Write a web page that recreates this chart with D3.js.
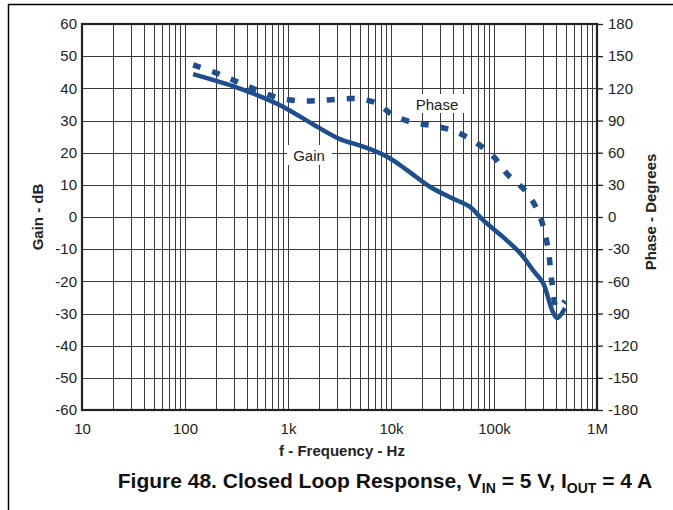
<!DOCTYPE html>
<html><head><meta charset="utf-8">
<script src="https://cdn.jsdelivr.net/npm/d3@7"></script>
<style>
html,body{margin:0;padding:0;background:#fff;}
svg{display:block;font-family:"Liberation Sans",Arial,sans-serif;}
</style></head>
<body><svg id="c" width="673" height="510"></svg>
<script>
// ---- data ----
const gainFreq = [120, 292, 500, 893, 1910, 3200, 5350, 9100, 14300, 23900, 37000, 58000, 78000, 122000, 179000, 239000, 299000, 334000, 366000, 409000, 489000];
const gainDb   = [44.4, 40.7, 37.9, 34.3, 28.1, 24.2, 21.9, 18.8, 14.6, 9.4, 6.2, 3.2, -0.9, -6.2, -11.2, -16.5, -20.5, -24.9, -28.9, -31.4, -28.3];
const phaseFreq = [120, 205, 320, 500, 782, 1220, 1910, 2990, 4680, 7300, 10400, 16400, 25600, 40000, 62500, 97700, 137000, 209000, 280000, 334000, 366000, 409000, 489000];
const phaseDeg  = [141.8, 134, 126.2, 118.4, 111.6, 108.5, 108.5, 109.8, 110.3, 106, 95.1, 88, 85.1, 80.5, 71.2, 56.9, 39.2, 22.7, 0.3, -28.9, -61.6, -85, -78.3];
const xTicks = [10, 100, 1000, 10000, 100000, 1000000];
const xTickLabels = ["10", "100", "1k", "10k", "100k", "1M"];
const gainTicks = [-60, -50, -40, -30, -20, -10, 0, 10, 20, 30, 40, 50, 60];
const phaseTicks = [-180, -150, -120, -90, -60, -30, 0, 30, 60, 90, 120, 150, 180];

const svg = d3.select("#c");
const L = 82, R = 597, T = 24, B = 410;
const blue = "#1d4e8d";
const x = d3.scaleLog().domain([10, 1e6]).range([L, R]);
const yG = d3.scaleLinear().domain([-60, 60]).range([B, T]);
const yP = d3.scaleLinear().domain([-180, 180]).range([B, T]);

// outer frame (top and left)
svg.append("line").attr("x1", 8).attr("y1", 4.5).attr("x2", 673).attr("y2", 4.5).attr("stroke", "#000").attr("stroke-width", 1.5);
svg.append("line").attr("x1", 8.5).attr("y1", 4).attr("x2", 8.5).attr("y2", 510).attr("stroke", "#000").attr("stroke-width", 1.5);

// grid
const minor = [];
for (let e = 1; e < 6; e++) for (let m = 1; m < 10; m++) minor.push(m * Math.pow(10, e));
const g = svg.append("g");
g.selectAll("line.v").data(minor.filter(d => d > 10)).enter().append("line")
  .attr("x1", d => Math.round(x(d)) + 0.5).attr("x2", d => Math.round(x(d)) + 0.5)
  .attr("y1", T).attr("y2", B).attr("stroke", "#3a3a3a").attr("stroke-width", 1);
g.selectAll("line.h").data(gainTicks.slice(1, -1)).enter().append("line")
  .attr("x1", L).attr("x2", R)
  .attr("y1", d => Math.round(yG(d)) + 0.5).attr("y2", d => Math.round(yG(d)) + 0.5)
  .attr("stroke", "#3a3a3a").attr("stroke-width", 1);

// label backgrounds
svg.append("rect").attr("x", 287).attr("y", 145).attr("width", 45).attr("height", 20).attr("fill", "#fff");
svg.append("rect").attr("x", 413).attr("y", 94).attr("width", 52).attr("height", 19).attr("fill", "#fff");

// plot border
svg.append("rect").attr("x", L).attr("y", T).attr("width", R - L).attr("height", B - T)
  .attr("fill", "none").attr("stroke", "#222").attr("stroke-width", 2.2);

// axes
const fs = 15;
const ax = svg.append("g").attr("transform", `translate(0,${B})`)
  .call(d3.axisBottom(x).tickValues(xTicks).tickFormat((d, i) => xTickLabels[i]).tickSize(0).tickPadding(13));
ax.select(".domain").remove();
const ay = svg.append("g").attr("transform", `translate(${L},0)`)
  .call(d3.axisLeft(yG).tickValues(gainTicks).tickFormat(d => String(d)).tickSize(0).tickPadding(5));
ay.select(".domain").remove();
const ar = svg.append("g").attr("transform", `translate(${R},0)`)
  .call(d3.axisRight(yP).tickValues(phaseTicks).tickFormat(d => String(d)).tickSize(6).tickPadding(5));
ar.select(".domain").remove();
ar.selectAll("line").attr("stroke", "#222").attr("stroke-width", 1.3);
svg.selectAll(".tick text").attr("font-size", fs).attr("fill", "#222").attr("font-family", "Liberation Sans, Arial, sans-serif");

// curves
const gainData = gainFreq.map((f, i) => [f, gainDb[i]]);
const phaseData = phaseFreq.map((f, i) => [f, phaseDeg[i]]);
svg.append("path").datum(phaseData)
  .attr("d", d3.line().x(d => x(d[0])).y(d => yP(d[1])).curve(d3.curveCatmullRom.alpha(0.5)))
  .attr("fill", "none").attr("stroke", blue).attr("stroke-width", 5.5).attr("stroke-dasharray", "8,12");
svg.append("path").datum(gainData)
  .attr("d", d3.line().x(d => x(d[0])).y(d => yG(d[1])).curve(d3.curveCatmullRom.alpha(0.5)))
  .attr("fill", "none").attr("stroke", blue).attr("stroke-width", 4.5).attr("stroke-linejoin", "round");

// curve labels
svg.append("text").attr("x", 309).attr("y", 161).attr("text-anchor", "middle").attr("font-size", 15).attr("fill", "#222").text("Gain");
svg.append("text").attr("x", 437).attr("y", 110).attr("text-anchor", "middle").attr("font-size", 15).attr("fill", "#222").text("Phase");

// axis titles
svg.append("text").attr("x", 342).attr("y", 456).attr("text-anchor", "middle").attr("font-size", 15).attr("font-weight", "bold").attr("fill", "#222").text("f - Frequency - Hz");
svg.append("text").attr("transform", "translate(43,217) rotate(-90)").attr("text-anchor", "middle").attr("font-size", 15).attr("font-weight", "bold").attr("fill", "#222").text("Gain - dB");
svg.append("text").attr("transform", "translate(656,212) rotate(-90)").attr("text-anchor", "middle").attr("font-size", 15).attr("font-weight", "bold").attr("fill", "#222").text("Phase - Degrees");

// caption
const cap = svg.append("text").attr("x", 385).attr("y", 488).attr("text-anchor", "middle").attr("font-size", 21).attr("font-weight", "bold").attr("fill", "#111");
cap.append("tspan").text("Figure 48. Closed Loop Response, V");
cap.append("tspan").attr("font-size", 14).attr("dy", 5).text("IN");
cap.append("tspan").attr("dy", -5).text(" = 5 V, I");
cap.append("tspan").attr("font-size", 14).attr("dy", 5).text("OUT");
cap.append("tspan").attr("dy", -5).text(" = 4 A");
</script></body></html>
